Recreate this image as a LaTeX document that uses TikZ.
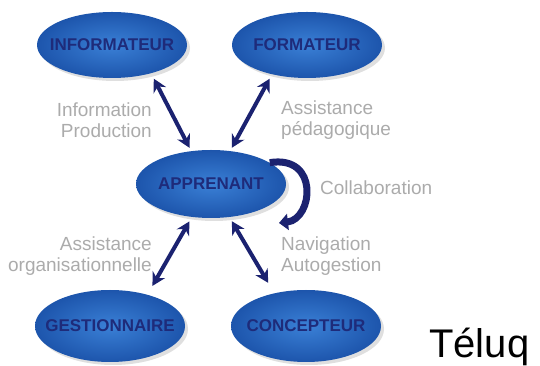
\documentclass[tikz,border=0pt]{standalone}
\usepackage{fontspec}
\setmainfont{Liberation Sans}
\usetikzlibrary{arrows.meta,shapes.geometric,shadows,positioning}

\definecolor{navy}{HTML}{1B2270}
\definecolor{rolelight}{HTML}{3A80D6}
\definecolor{roledark}{HTML}{1D55AC}
\definecolor{roletext}{HTML}{1E2B7A}
\definecolor{lblgray}{HTML}{ABABAB}

\begin{document}
\begin{tikzpicture}[x=1pt, y=1pt,
    role/.style={ellipse, minimum width=150pt, minimum height=66pt, inner xsep=-25pt, inner ysep=0pt,
        inner color=rolelight, outer color=roledark,
        drop shadow={shadow xshift=3pt, shadow yshift=-3pt, opacity=0.25},
        font=\fontsize{17}{20}\selectfont\bfseries, text=roletext},
    lbl/.style={font=\fontsize{19}{21}\selectfont, text=lblgray, inner sep=0pt},
    arr/.style={{Stealth[length=13pt,width=14pt]}-{Stealth[length=13pt,width=14pt]}, line width=4pt, draw=navy},
    loop/.style={-{Triangle[length=9pt,width=16pt]}, line width=7pt, draw=navy}
]
\useasboundingbox (0,0) rectangle (540,366);

% roles
\node[role] (info) at (112,321) {INFORMATEUR};
\node[role] (form) at (307,321) {FORMATEUR};
\node[role, minimum height=68pt] (appr) at (211,182) {APPRENANT};
\node[role, minimum height=72pt] (gest) at (110,40) {GESTIONNAIRE};
\node[role, minimum height=72pt] (conc) at (306,40) {CONCEPTEUR};

% relations
\draw[arr, shorten <=6pt, shorten >=3.5pt] (info.-36) -- (appr.121);
\draw[arr, shorten <=5pt, shorten >=3.5pt] (form.-140) -- (appr.60);
\draw[arr, shorten <=5pt, shorten >=10pt] (appr.-120) -- (gest.40);
\draw[arr, shorten <=4.7pt, shorten >=12pt] (appr.-61) -- (conc.134);

\coordinate (collabend) at (279,143);
\draw[loop] (appr.20) .. controls +(50,8) and +(34,4) .. (collabend);

% labels
\node[lbl, anchor=east, align=right] (infolbl) at (152,245.5) {Information\\Production};
\node[lbl, anchor=west, align=left] (formlbl) at (281,245.5) {Assistance\\pédagogique};
\node[lbl, anchor=west] (collablbl) at (320,178) {Collaboration};
\node[lbl, anchor=east, align=right] (gestlbl) at (152,110) {Assistance\\organisationnelle};
\node[lbl, anchor=west, align=left] (conclbl) at (281,110) {Navigation\\Autogestion};

\node[font=\fontsize{40}{48}\selectfont, anchor=base west, inner sep=0pt] (teluq) at (429,8) {Téluq};
\end{tikzpicture}
\end{document}
